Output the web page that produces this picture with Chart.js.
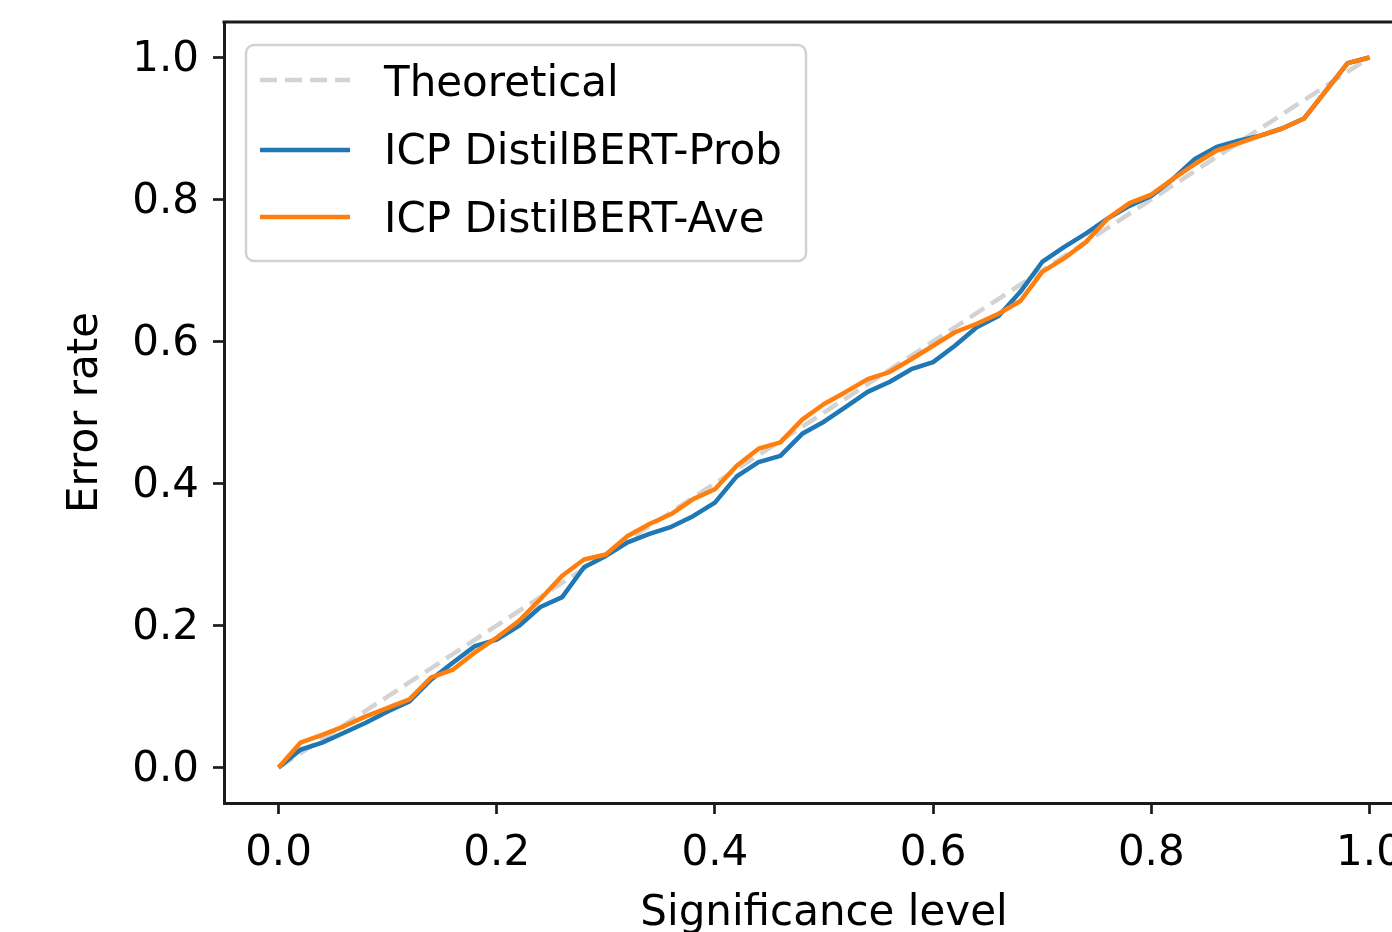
<!DOCTYPE html>
<html><head><meta charset="utf-8">
<script src="https://cdn.jsdelivr.net/npm/chart.js@4.4.1/dist/chart.umd.min.js"></script>
<style>
html,body{margin:0;padding:0;overflow:hidden;background:#fff;width:1392px;height:932px;}
#wrap{position:absolute;left:0;top:0;width:1440px;height:932px;}
canvas{display:block;}
</style></head><body>
<div id="wrap"><canvas id="c" width="1440" height="932" style="width:1440px;height:932px"></canvas></div>
<script>
const significance = [0,0.02,0.04,0.06,0.08,0.10,0.12,0.14,0.16,0.18,0.20,0.22,0.24,0.26,0.28,0.30,0.32,0.34,0.36,0.38,0.40,0.42,0.44,0.46,0.48,0.50,0.52,0.54,0.56,0.58,0.60,0.62,0.64,0.66,0.68,0.70,0.72,0.74,0.76,0.78,0.80,0.82,0.84,0.86,0.88,0.90,0.92,0.94,0.96,0.98,1.00];
const probError = [0,0.025,0.035,0.049,0.063,0.079,0.093,0.124,0.148,0.171,0.180,0.199,0.226,0.240,0.282,0.298,0.317,0.329,0.339,0.354,0.373,0.410,0.430,0.439,0.470,0.487,0.508,0.529,0.543,0.561,0.571,0.594,0.620,0.636,0.670,0.712,0.733,0.752,0.773,0.791,0.805,0.829,0.857,0.874,0.883,0.890,0.900,0.914,0.953,0.992,1.0];
const aveError = [0,0.035,0.046,0.058,0.072,0.084,0.096,0.127,0.138,0.162,0.183,0.206,0.237,0.270,0.293,0.300,0.326,0.343,0.357,0.378,0.392,0.425,0.449,0.458,0.490,0.512,0.529,0.547,0.557,0.575,0.594,0.613,0.625,0.639,0.657,0.698,0.717,0.740,0.773,0.795,0.807,0.829,0.850,0.869,0.879,0.890,0.900,0.914,0.953,0.992,1.0];
const theoreticalX = [0, 1];
const theoreticalY = [0, 1];
const xTickValues = [0, 0.2, 0.4, 0.6, 0.8, 1.0];
const yTickValues = [0, 0.2, 0.4, 0.6, 0.8, 1.0];
const seriesLabels = ['Theoretical', 'ICP DistilBERT-Prob', 'ICP DistilBERT-Ave'];
const axisTitles = {x: 'Significance level', y: 'Error rate'};

const FONT = "'DejaVu Sans', sans-serif";
const pts = (xs, ys) => xs.map((x, i) => ({x: x, y: ys[i]}));

const legendPlugin = {
  id: 'mplLegend',
  afterDatasetsDraw(chart) {
    const ctx = chart.ctx;
    ctx.save();
    ctx.beginPath();
    ctx.roundRect(246, 45, 560, 216, 8);
    ctx.fillStyle = 'rgba(255,255,255,0.8)';
    ctx.fill();
    ctx.lineWidth = 2.5;
    ctx.strokeStyle = '#d2d2d2';
    ctx.stroke();
    const swatchRows = [80, 150, 217];
    const textRows = [85, 153, 221];
    chart.data.datasets.forEach((ds, i) => {
      ctx.beginPath();
      ctx.setLineDash(ds.borderDash || []);
      ctx.lineWidth = ds.borderWidth;
      ctx.strokeStyle = ds.borderColor;
      ctx.moveTo(260, swatchRows[i]);
      ctx.lineTo(350, swatchRows[i]);
      ctx.stroke();
      ctx.setLineDash([]);
      ctx.fillStyle = '#000';
      ctx.font = "42px " + FONT;
      ctx.textBaseline = 'middle';
      ctx.textAlign = 'left';
      ctx.fillText(ds.label, 384, textRows[i]);
    });
    ctx.restore();
  }
};

const framePlugin = {
  id: 'frame',
  afterDraw(chart) {
    const {ctx, chartArea: a} = chart;
    ctx.save();
    ctx.strokeStyle = '#1a1a1a';
    ctx.lineWidth = 3;
    ctx.beginPath();
    ctx.moveTo(a.left - 1.5, a.top);
    ctx.lineTo(a.right, a.top);
    ctx.lineTo(a.right, a.bottom);
    ctx.stroke();
    ctx.restore();
  }
};

const tickFmt = v => Number(v).toFixed(1);

new Chart(document.getElementById('c'), {
  type: 'line',
  data: {
    datasets: [
      {label: seriesLabels[0], data: pts(theoreticalX, theoreticalY), borderColor: '#d3d3d3', borderWidth: 4.5, borderDash: [17, 8], pointRadius: 0, order: 3, tension: 0},
      {label: seriesLabels[1], data: pts(significance, probError), borderColor: '#1f77b4', borderWidth: 4.5, pointRadius: 0, order: 2, tension: 0, borderJoinStyle: 'round'},
      {label: seriesLabels[2], data: pts(significance, aveError), borderColor: '#ff7f0e', borderWidth: 4.5, pointRadius: 0, order: 1, tension: 0, borderJoinStyle: 'round'}
    ]
  },
  options: {
    responsive: false,
    devicePixelRatio: 1,
    animation: false,
    layout: {padding: {top: 22, right: 16, left: 0, bottom: 0}},
    plugins: {legend: {display: false}, tooltip: {enabled: false}},
    scales: {
      x: {
        type: 'linear', min: -0.05, max: 1.05,
        afterBuildTicks: s => { s.ticks = xTickValues.map(v => ({value: v})); },
        afterFit: s => { s.height = 129; s.paddingLeft = 0; s.paddingRight = 0; s.paddingTop = 0; s.paddingBottom = 0; },
        ticks: {callback: tickFmt, color: '#000', font: {size: 42, family: FONT}, padding: 15, maxRotation: 0, autoSkip: false},
        grid: {display: true, drawOnChartArea: false, drawTicks: true, tickLength: 11, tickWidth: 2.7, tickColor: '#1a1a1a'},
        border: {display: true, color: '#1a1a1a', width: 3},
        title: {display: true, text: axisTitles.x, color: '#000', font: {size: 42, family: FONT, lineHeight: 1}, padding: {top: 0, bottom: -3}}
      },
      y: {
        type: 'linear', min: -0.05, max: 1.05,
        afterBuildTicks: s => { s.ticks = yTickValues.map(v => ({value: v})); },
        afterFit: s => { s.width = 224; s.paddingLeft = 0; s.paddingRight = 0; s.paddingTop = 0; s.paddingBottom = 0; },
        ticks: {callback: tickFmt, color: '#000', font: {size: 42, family: FONT}, padding: 14, labelOffset: 3, autoSkip: false},
        grid: {display: true, drawOnChartArea: false, drawTicks: true, tickLength: 11, tickWidth: 2.7, tickColor: '#1a1a1a'},
        border: {display: true, color: '#1a1a1a', width: 3},
        title: {display: true, text: axisTitles.y, color: '#000', font: {size: 42, family: FONT, lineHeight: 1.2}, padding: {top: 61, bottom: 0}}
      }
    }
  },
  plugins: [legendPlugin, framePlugin]
});
</script>
</body></html>
